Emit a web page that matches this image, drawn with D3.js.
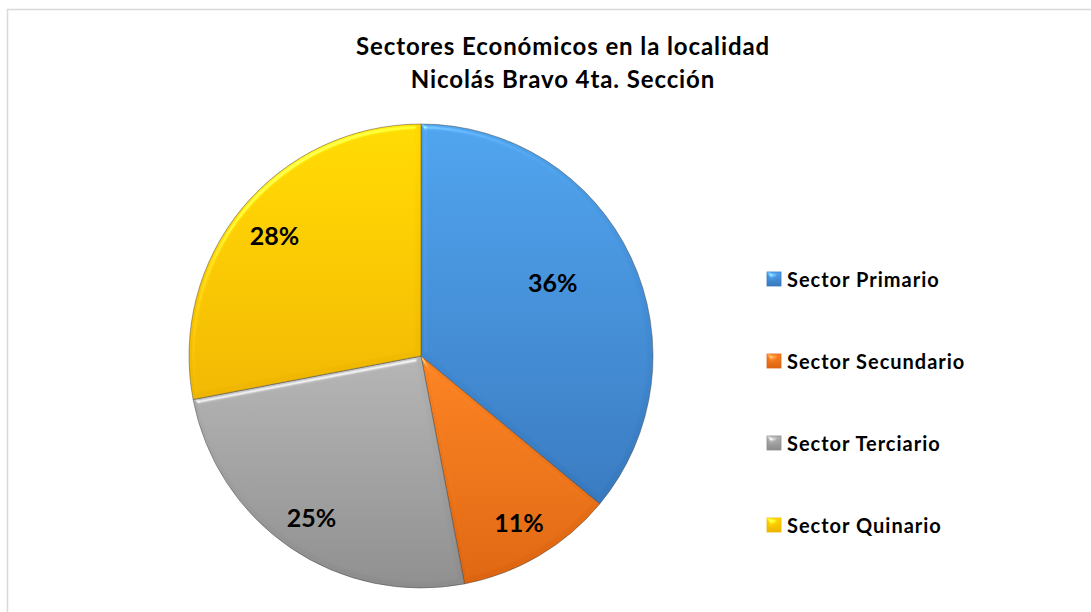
<!DOCTYPE html>
<html><head><meta charset="utf-8">
<script src="https://cdn.jsdelivr.net/npm/d3@7"></script>
<style>html,body{margin:0;padding:0;background:#fff;overflow:hidden}</style>
</head><body>
<svg id="c" width="1091" height="612"></svg>
<script>
const categories = ["Sector Primario","Sector Secundario","Sector Terciario","Sector Quinario"];
const values = [36, 11, 25, 28];
const labels = ["36%","11%","25%","28%"];
const titleLines = ["Sectores Económicos en la localidad","Nicolás Bravo 4ta. Sección"];
const colorsLight = ["#4DA1EB","#F98120","#B2B2B2","#FFD800"];
const colorsDark  = ["#3778BE","#DC6410","#8C8C8C","#EEB500"];

const svg = d3.select("#c");
const font = "Lato, 'Open Sans', 'DejaVu Sans', sans-serif";

// border
svg.append("rect").attr("x",7.5).attr("y",9.5).attr("width",1200).attr("height",700)
  .attr("fill","#fff").attr("stroke","#d9d9d9").attr("stroke-width",1.5);

const defs = svg.append("defs");
const f = defs.append("filter").attr("id","bevel").attr("x","-10%").attr("y","-10%").attr("width","120%").attr("height","120%")
  .attr("color-interpolation-filters","sRGB");
f.append("feGaussianBlur").attr("in","SourceAlpha").attr("stdDeviation",2.5).attr("result","blur");
const sp = f.append("feSpecularLighting").attr("in","blur").attr("surfaceScale",4)
  .attr("specularConstant",0.6).attr("specularExponent",22).attr("lighting-color","#ffffff").attr("result","spec");
sp.append("feDistantLight").attr("azimuth",240).attr("elevation",30);
f.append("feComposite").attr("in","spec").attr("in2","SourceAlpha").attr("operator","in").attr("result","specOut");
f.append("feComposite").attr("in","SourceGraphic").attr("in2","specOut").attr("operator","arithmetic")
  .attr("k1",0).attr("k2",1).attr("k3",0.6).attr("k4",0);

colorsLight.forEach((c,i)=>{
  const g = defs.append("linearGradient").attr("id","g"+i).attr("x1",0).attr("y1",0).attr("x2",0).attr("y2",1);
  g.append("stop").attr("offset","0%").attr("stop-color",c);
  g.append("stop").attr("offset","100%").attr("stop-color",colorsDark[i]);
});

const cx = 421, cy = 356, R = 232;
const pie = d3.pie().sort(null).value(d=>d);
const arcs = pie(values);
const arc = d3.arc().innerRadius(0).outerRadius(R);
const g = svg.append("g").attr("transform",`translate(${cx},${cy})`);

g.selectAll("path.s").data(arcs).enter().append("path").attr("class","s")
  .attr("d",arc).attr("fill",(d,i)=>`url(#g${i})`)
  .attr("stroke","rgba(60,60,60,0.55)").attr("stroke-width",0.8)
  .attr("filter","url(#bevel)");

const labelR = [0.65, 0.83, 0.84, 0.82];
const labelShift = [-4, 0, 0, 0]; // angular nudge (degrees) for best-fit placement
g.selectAll("text.l").data(arcs).enter().append("text").attr("class","l")
  .attr("transform",(d,i)=>{
    const a = (d.startAngle + d.endAngle)/2 + labelShift[i]*Math.PI/180;
    const r = R*labelR[i];
    return `translate(${r*Math.sin(a)},${-r*Math.cos(a)})`;})
  .attr("text-anchor","middle").attr("dominant-baseline","central")
  .attr("font-family",font).attr("font-weight","bold").attr("font-size",25).attr("fill","#000")
  .text((d,i)=>labels[i]);

// title
svg.append("g").selectAll("text").data(titleLines).enter().append("text")
  .attr("x",563).attr("y",(d,i)=>45+i*33).attr("text-anchor","middle").attr("dominant-baseline","central")
  .attr("font-family",font).attr("font-weight","bold").attr("font-size",24).attr("letter-spacing",0.9).attr("fill","#000")
  .text(d=>d);

// legend
const ly = d3.scalePoint().domain(categories).range([279,525]);
const lg = svg.append("g").selectAll("g").data(categories).enter().append("g")
  .attr("transform",d=>`translate(767,${ly(d)})`);
lg.append("rect").attr("x",0).attr("y",-7).attr("width",14).attr("height",14)
  .attr("fill",(d,i)=>`url(#g${i})`).attr("stroke",(d,i)=>colorsDark[i]).attr("stroke-width",0.8)
  .attr("filter","url(#bevel)");
lg.append("text").attr("x",20).attr("y",0).attr("dominant-baseline","central")
  .attr("font-family",font).attr("font-weight","bold").attr("font-size",20).attr("letter-spacing",1).attr("fill","#000")
  .text(d=>d);
</script>
</body></html>
